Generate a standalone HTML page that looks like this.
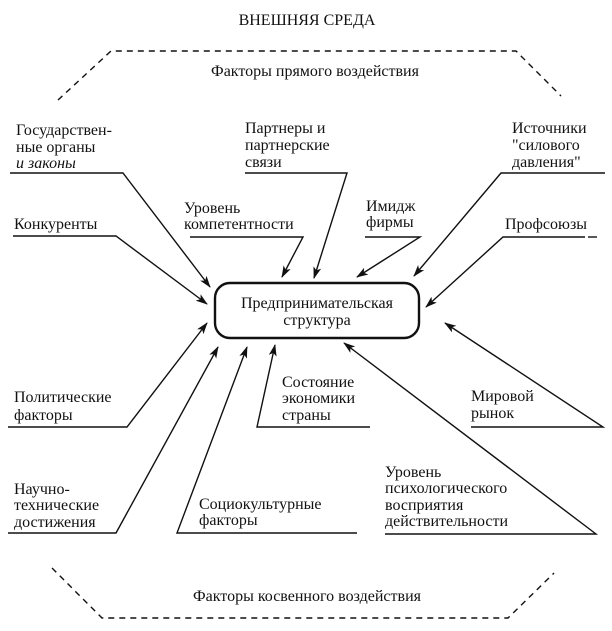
<!DOCTYPE html>
<html><head><meta charset="utf-8"><style>
html,body{margin:0;padding:0;background:#fff;}
svg{display:block;}
</style></head><body>
<svg width="612" height="631" viewBox="0 0 612 631" xmlns="http://www.w3.org/2000/svg">
<defs><marker id="a" markerWidth="12" markerHeight="8" refX="11" refY="4" orient="auto" markerUnits="userSpaceOnUse"><path d="M0,0 L12,4 L0,8 L3,4 Z" fill="#111"/></marker></defs>
<g stroke="#111" stroke-width="1.4" fill="none">
<polyline points="58,100 111,51 516,51 561,96" stroke-dasharray="6,5"/>
<polyline points="52,568 102,618 508,618 554,573" stroke-dasharray="6,5"/>
<rect x="215" y="283" width="204" height="55" rx="15" stroke-width="2.4"/>
<polyline points="10,173 123,173 210,287" marker-end="url(#a)"/>
<polyline points="13,236 116,236 207,304" marker-end="url(#a)"/>
<polyline points="190,237 303,237 282,277" marker-end="url(#a)"/>
<polyline points="245,173 347,173 314,278" marker-end="url(#a)"/>
<polyline points="365,237 420,237 357,277" marker-end="url(#a)"/>
<polyline points="605,173 501,173 414,276" marker-end="url(#a)"/>
<polyline points="585,237 503,237 426,307" marker-end="url(#a)"/>
<line x1="588" y1="237" x2="597" y2="237"/>
<polyline points="8,427 127,427 207,323" marker-end="url(#a)"/>
<polyline points="8,533 116,533 218,347" marker-end="url(#a)"/>
<polyline points="357,533 177,533 247,347" marker-end="url(#a)"/>
<polyline points="370,427 257,427 275,345" marker-end="url(#a)"/>
<polyline points="471,427 603,427 445,323" marker-end="url(#a)"/>
<polyline points="385,534 596,534 344,343" marker-end="url(#a)"/>
</g>
<g font-family="Liberation Serif, DejaVu Serif, serif" font-size="16" fill="#111">
<text x="307" y="25" text-anchor="middle">ВНЕШНЯЯ СРЕДА</text>
<text x="315" y="76" text-anchor="middle">Факторы прямого воздействия</text>
<text x="307" y="601" text-anchor="middle">Факторы косвенного воздействия</text>
<text x="317" y="308" text-anchor="middle">Предпринимательская</text>
<text x="317" y="325" text-anchor="middle">структура</text>
<text x="16" y="135">Государствен-</text><text x="16" y="152">ные органы</text><text x="16" y="168" font-style="italic">и законы</text>
<text x="245" y="133">Партнеры и</text><text x="245" y="150">партнерские</text><text x="245" y="167">связи</text>
<text x="512" y="133">Источники</text><text x="512" y="150">"силового</text><text x="512" y="167">давления"</text>
<text x="184" y="213">Уровень</text><text x="184" y="229">компетентности</text>
<text x="14" y="229">Конкуренты</text>
<text x="366" y="211">Имидж</text><text x="366" y="227">фирмы</text>
<text x="505" y="229">Профсоюзы</text>
<text x="14" y="402">Политические</text><text x="14" y="420">факторы</text>
<text x="14" y="494">Научно-</text><text x="14" y="510">технические</text><text x="14" y="527">достижения</text>
<text x="199" y="509">Социокультурные</text><text x="199" y="525">факторы</text>
<text x="282" y="387">Состояние</text><text x="282" y="403">экономики</text><text x="282" y="420">страны</text>
<text x="471" y="401">Мировой</text><text x="471" y="418">рынок</text>
<text x="385" y="477">Уровень</text><text x="385" y="493">психологического</text><text x="385" y="510">восприятия</text><text x="385" y="526">действительности</text>
</g>
</svg>
</body></html>
